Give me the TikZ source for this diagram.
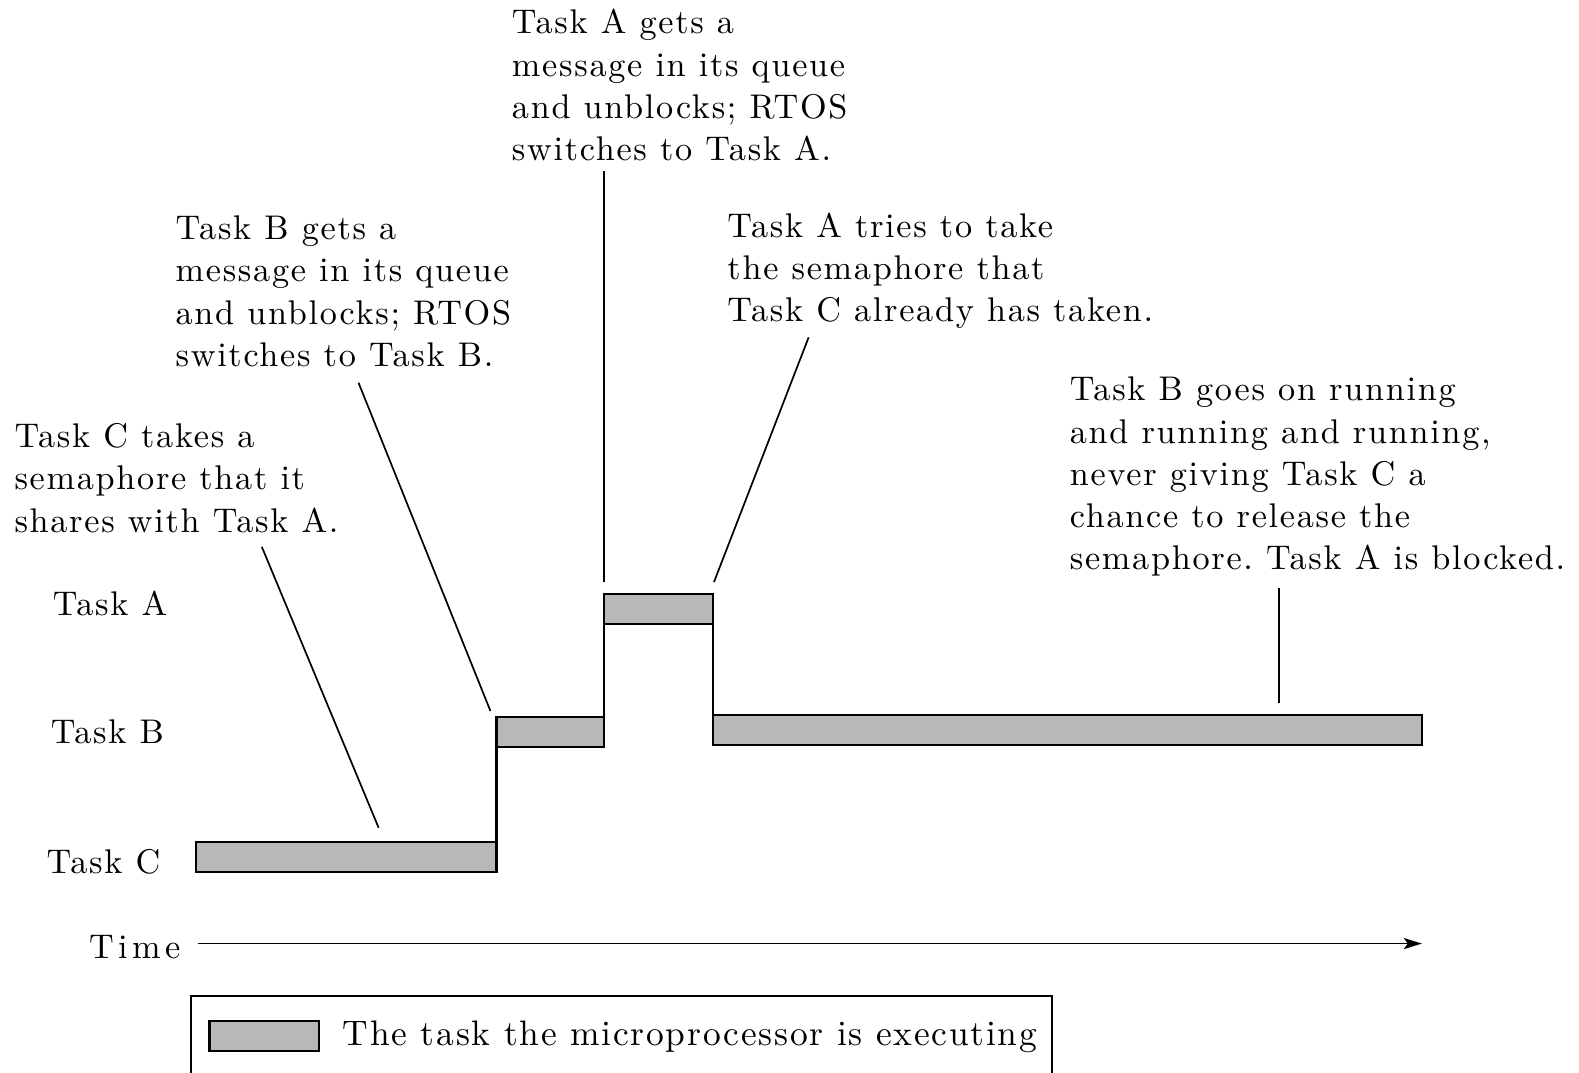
\documentclass[tikz,border=0pt]{standalone}
\usepackage{fontspec}
\setmainfont{lmroman10-regular.otf}[LetterSpace=5]
\usetikzlibrary{arrows.meta}
\definecolor{barfill}{gray}{0.72}
\begin{document}
\frenchspacing
\begin{tikzpicture}[x=0.5pt,y=-0.5pt,
  txt/.style={inner sep=0pt, font=\fontsize{17pt}{21pt}\selectfont, align=left, anchor=north west},
  lab/.style={inner sep=0pt, font=\fontsize{17pt}{21pt}\selectfont, anchor=base west},
  bar/.style={draw=black, line width=1.1pt, fill=barfill},
  edge/.style={line width=1.1pt},
  leader/.style={line width=0.85pt}]
\useasboundingbox (0,0) rectangle (1568,1065);

% annotation texts
\node[txt] (nC) at (14,420) {Task C takes a\\semaphore that it\\shares with Task A.};
\node[txt] (nB) at (174,214) {Task B gets a\\message in its queue\\and unblocks; RTOS\\switches to Task B.};
\node[txt] (nA) at (508,9) {Task A gets a\\message in its queue\\and unblocks; RTOS\\switches to Task A.};
\node[txt] (nT) at (722,211) {Task A tries to take\\the semaphore that\\Task C already has taken.};
\node[txt] (nR) at (1062,374) {Task B goes on running\\and running and running,\\never giving Task C a\\chance to release the\\semaphore. Task A is blocked.};

% row labels
\node[lab] (la) at (52,611) {Task A};
\node[lab] (lb) at (50,738) {Task B};
\node[lab] (lc) at (46,867) {Task C};
\node[lab, font=\fontsize{17pt}{21pt}\selectfont\addfontfeature{LetterSpace=13}] (lt) at (88,952) {Time};

% bars
\draw[bar] (195,836) rectangle (493,866);
\draw[bar] (493,712) rectangle (600,742);
\draw[bar] (600,590) rectangle (708,620);
\draw[bar] (708,710) rectangle (1412,740);
\draw[edge] (493,836) -- (493,742);
\draw[edge] (600,712) -- (600,620);
\draw[edge] (708,620) -- (708,710);

% leader lines
\coordinate (c1s) at (260,543); \coordinate (c1e) at (376,822);
\coordinate (c2s) at (356,380); \coordinate (c2e) at (487,706);
\coordinate (c3s) at (600,170); \coordinate (c3e) at (600,578);
\coordinate (c4s) at (803,335); \coordinate (c4e) at (709,578);
\coordinate (c5s) at (1270,584); \coordinate (c5e) at (1270,698);
\draw[leader] (c1s) -- (c1e);
\draw[leader] (c2s) -- (c2e);
\draw[leader] (c3s) -- (c3e);
\draw[leader] (c4s) -- (c4e);
\draw[leader] (c5s) -- (c5e);

% time axis
\coordinate (ts) at (197,937);
\coordinate (te) at (1412,937);
\draw[line width=0.9pt, -{Stealth[length=9pt,width=5.5pt,inset=2pt]}] (ts) -- (te);

% legend
\draw[line width=1.1pt] (190,1080) -- (190,989) -- (1045,989) -- (1045,1080);
\draw[bar] (208,1014) rectangle (317,1044);
\node[lab, font=\fontsize{17.6pt}{21pt}\selectfont] (leg) at (340,1038) {The task the microprocessor is executing};
\end{tikzpicture}
\end{document}
